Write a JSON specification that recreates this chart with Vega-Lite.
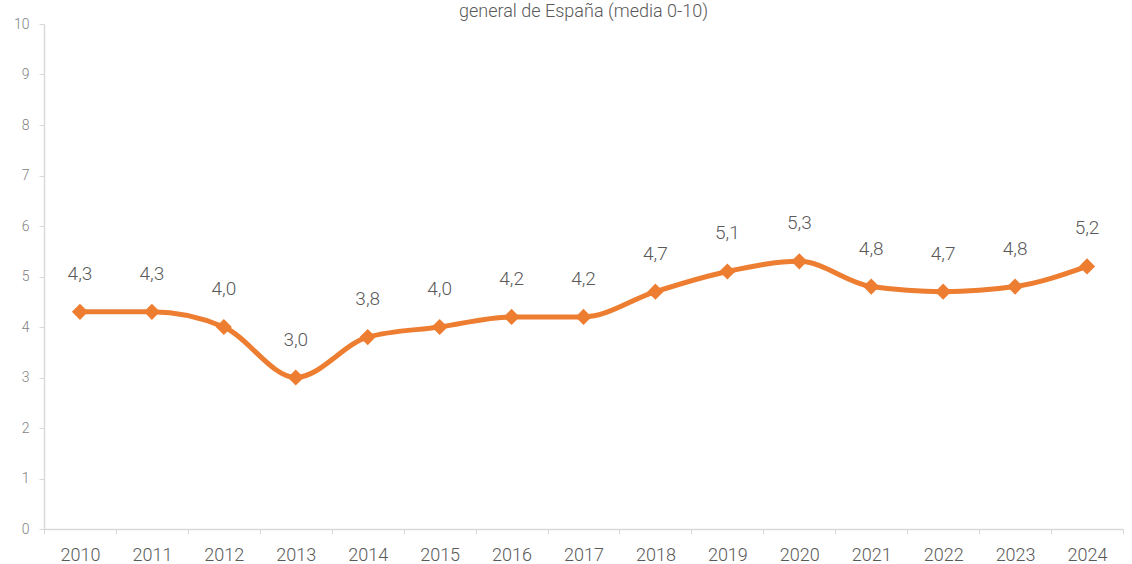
{
  "$schema": "https://vega.github.io/schema/vega-lite/v6.json",
  "width": 1079,
  "height": 505,
  "autosize": {"type": "none"},
  "padding": {"left": 44, "top": 24, "right": 9, "bottom": 35},
  "background": "white",
  "config": {
    "view": {"stroke": null},
    "locale": {"number": {"decimal": ",", "thousands": ".", "grouping": [3], "currency": ["", " €"]}},
    "font": "Roboto"
  },
  "title": {
    "text": "general de España (media 0-10)",
    "anchor": "middle",
    "fontSize": 18,
    "font": "Roboto",
    "fontWeight": 300,
    "color": "#595959",
    "baseline": "alphabetic",
    "offset": 0,
    "dy": 18
  },
  "data": {
    "values": [
      {"year": "2010", "value": 4.3},
      {"year": "2011", "value": 4.3},
      {"year": "2012", "value": 4.0},
      {"year": "2013", "value": 3.0},
      {"year": "2014", "value": 3.8},
      {"year": "2015", "value": 4.0},
      {"year": "2016", "value": 4.2},
      {"year": "2017", "value": 4.2},
      {"year": "2018", "value": 4.7},
      {"year": "2019", "value": 5.1},
      {"year": "2020", "value": 5.3},
      {"year": "2021", "value": 4.8},
      {"year": "2022", "value": 4.7},
      {"year": "2023", "value": 4.8},
      {"year": "2024", "value": 5.2}
    ]
  },
  "encoding": {
    "x": {
      "field": "year",
      "type": "nominal",
      "scale": {"type": "band", "paddingInner": 0, "paddingOuter": 0},
      "axis": {
        "title": null,
        "labelAngle": 0,
        "labelFontSize": 18,
        "labelFontWeight": 300,
        "labelColor": "#595959",
        "labelFont": "Roboto",
        "labelPadding": 12,
        "tickBand": "extent",
        "tickColor": "#d9d9d9",
        "tickSize": 5,
        "domainColor": "#d9d9d9",
        "domainWidth": 1.5,
        "grid": false
      }
    },
    "y": {
      "field": "value",
      "type": "quantitative",
      "scale": {"domain": [0, 10]},
      "axis": {
        "title": null,
        "values": [0, 1, 2, 3, 4, 5, 6, 7, 8, 9, 10],
        "format": "d",
        "labelFontSize": 14,
        "labelFontWeight": 300,
        "labelColor": "#7f7f7f",
        "labelFont": "Roboto",
        "labelPadding": 10,
        "tickColor": "#d9d9d9",
        "tickSize": 5,
        "domainColor": "#d9d9d9",
        "domainWidth": 1.5,
        "grid": false
      }
    }
  },
  "layer": [
    {
      "mark": {"type": "line", "color": "#ED7D31", "strokeWidth": 5, "interpolate": "monotone"}
    },
    {
      "mark": {"type": "point", "shape": "diamond", "filled": true, "color": "#ED7D31", "size": 260, "opacity": 1}
    },
    {
      "mark": {"type": "text", "dy": -38, "fontSize": 19, "color": "#595959", "font": "Roboto", "fontWeight": 300},
      "encoding": {"text": {"field": "value", "type": "quantitative", "format": ".1f"}}
    }
  ]
}
